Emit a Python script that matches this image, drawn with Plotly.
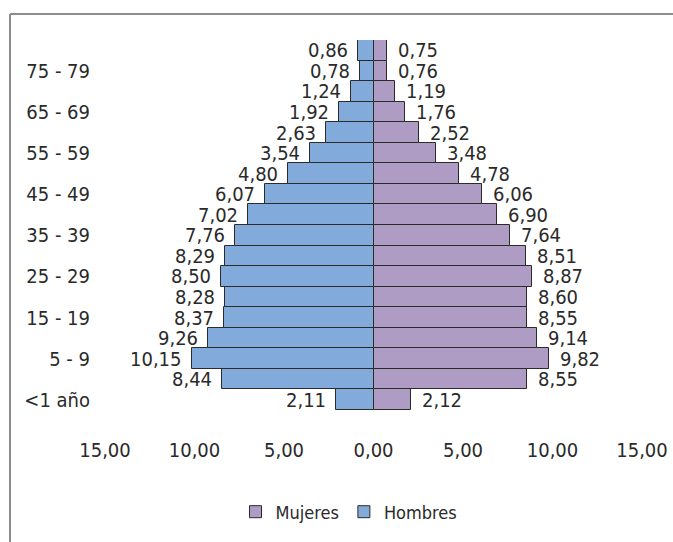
import plotly.graph_objects as go

# Age groups, bottom to top
grupos = ["< 1 año", "1 - 4", "5 - 9", "10 - 14", "15 - 19", "20 - 24", "25 - 29",
          "30 - 34", "35 - 39", "40 - 44", "45 - 49", "50 - 54", "55 - 59",
          "60 - 64", "65 - 69", "70 - 74", "75 - 79", "80 y más"]

# Percentage of population per group
hombres = [2.11, 8.44, 10.15, 9.26, 8.37, 8.28, 8.50, 8.29, 7.76, 7.02,
           6.07, 4.80, 3.54, 2.63, 1.92, 1.24, 0.78, 0.86]
mujeres = [2.12, 8.55, 9.82, 9.14, 8.55, 8.60, 8.87, 8.51, 7.64, 6.90,
           6.06, 4.78, 3.48, 2.52, 1.76, 1.19, 0.76, 0.75]

# Axis labels
etiquetas_y = ["<1 año", "5 - 9", "15 - 19", "25 - 29", "35 - 39",
               "45 - 49", "55 - 59", "65 - 69", "75 - 79"]
valores_x = [-15, -10, -5, 0, 5, 10, 15]


def fmt(v):
    return f"{abs(v):.2f}".replace(".", ",")


W, H = 673, 542
ML, MR, MT, MB = 105, 31, 40, 106
FONT = "Liberation Sans Narrow, DejaVu Sans Condensed, Arial Narrow, sans-serif"
TXT = "#2a2a2a"
AZUL = "#82AADB"
MORADO = "#AF9CC5"
BORDE = "#2b2b2b"
FS = 20

pos = list(range(len(grupos)))

fig = go.Figure()
fig.add_trace(go.Bar(
    y=pos, x=[-v for v in hombres], orientation="h", name="Hombres",
    marker=dict(color=AZUL, line=dict(color=BORDE, width=1)),
    hoverinfo="skip",
))
fig.add_trace(go.Bar(
    y=pos, x=mujeres, orientation="h", name="Mujeres",
    marker=dict(color=MORADO, line=dict(color=BORDE, width=1)),
    hoverinfo="skip",
))

# Value labels beside each bar end
anotaciones = []
for i, v in enumerate(hombres):
    anotaciones.append(dict(
        x=-v, y=i, xref="x", yref="y", text=fmt(v), showarrow=False,
        xanchor="right", yanchor="middle", xshift=-8,
        font=dict(family=FONT, size=FS, color=TXT),
    ))
for i, v in enumerate(mujeres):
    anotaciones.append(dict(
        x=v, y=i, xref="x", yref="y", text=fmt(v), showarrow=False,
        xanchor="left", yanchor="middle", xshift=9,
        font=dict(family=FONT, size=FS, color=TXT),
    ))

plot_h = H - MT - MB
plot_w = W - ML - MR
px_per_cat = (410 - 40) / len(grupos)
y_low = -0.5 - (plot_h - (410 - 40)) / px_per_cat


def paper_x(px):
    return (px - ML) / plot_w


def paper_y(py):
    return (H - MB - py) / plot_h


fig.update_layout(
    width=W, height=H,
    margin=dict(l=ML, r=MR, t=MT, b=MB, autoexpand=False),
    paper_bgcolor="white", plot_bgcolor="white",
    barmode="overlay", bargap=0,
    font=dict(family=FONT, size=FS, color=TXT),
    xaxis=dict(
        range=[-15, 15], tickvals=valores_x,
        ticktext=[fmt(v) for v in valores_x],
        showgrid=False, zeroline=False, showline=False, ticks="",
        automargin=False,
        tickfont=dict(family=FONT, size=FS, color=TXT),
    ),
    yaxis=dict(
        range=[y_low, len(grupos) - 0.5],
        tickmode="array", tickvals=pos[::2], ticktext=etiquetas_y,
        showgrid=False, zeroline=False, showline=False, ticks="",
        ticklabelstandoff=14, automargin=False,
        tickfont=dict(family=FONT, size=FS, color=TXT),
    ),
    legend=dict(
        orientation="h", traceorder="reversed",
        x=paper_x(349), xanchor="center",
        y=paper_y(512), yanchor="middle",
        font=dict(family=FONT, size=18, color=TXT),
        itemwidth=30,
    ),
    showlegend=True,
    annotations=anotaciones,
    shapes=[
        dict(type="line", xref="paper", yref="paper",
             x0=paper_x(10), x1=paper_x(W + 10), y0=paper_y(14), y1=paper_y(14),
             line=dict(color="#8c8c8c", width=2)),
        dict(type="line", xref="paper", yref="paper",
             x0=paper_x(10), x1=paper_x(10), y0=paper_y(14), y1=paper_y(H + 10),
             line=dict(color="#8c8c8c", width=2)),
    ],
)

fig.write_html("out.html")
